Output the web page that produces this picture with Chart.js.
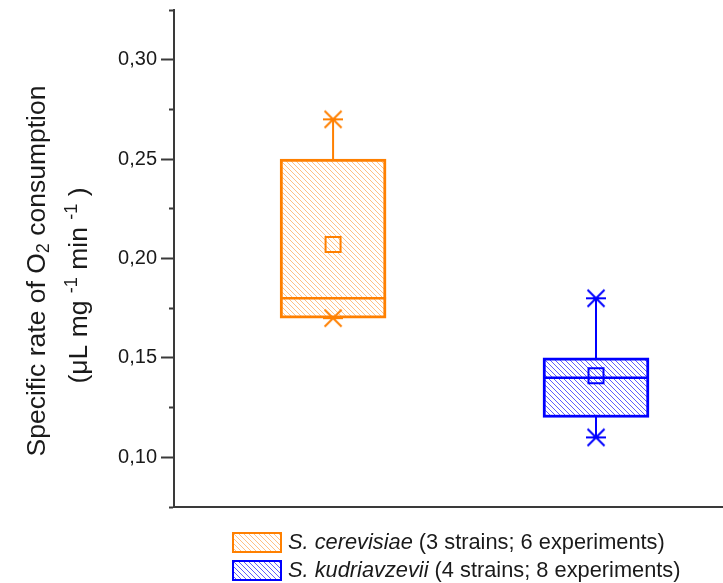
<!DOCTYPE html>
<html><head><meta charset="utf-8">
<script src="https://cdn.jsdelivr.net/npm/chart.js@4.4.1/dist/chart.umd.min.js"></script>
<style>
html,body{margin:0;padding:0;background:#fff;}
#wrap{position:relative;width:723px;height:583px;overflow:hidden;}
#c{position:absolute;left:0;top:0;}
#legend{position:absolute;left:232px;top:528px;font-family:"Liberation Sans",Arial,sans-serif;font-size:21.8px;color:#1a1a1a;line-height:22px;}
.item{display:flex;align-items:center;height:28px;white-space:nowrap;}
.item canvas{margin-right:6px;display:block;}
</style></head>
<body><div id="wrap"><canvas id="c" width="723" height="583"></canvas><div id="legend"></div></div>
<script>
// ---- data ----
const categories = ['S. cerevisiae', 'S. kudriavzevii'];
const legendDetails = ['(3 strains; 6 experiments)', '(4 strains; 8 experiments)'];
const positions = [1, 2];
const minValues = [0.17, 0.11];
const q1Values = [0.17, 0.12];
const medianValues = [0.18, 0.14];
const q3Values = [0.25, 0.15];
const maxValues = [0.27, 0.18];
const meanValues = [0.207, 0.141];
const yTickValues = [0.10, 0.15, 0.20, 0.25, 0.30];
const yTickLabels = ['0,10', '0,15', '0,20', '0,25', '0,30'];
// axis title, as text runs (s = script: 'sub' / 'sup')
const yTitleLine1 = [{t: 'Specific rate of O'}, {t: '2', s: 'sub'}, {t: ' consumption'}];
const yTitleLine2 = [{t: '(\u03bcL mg '}, {t: '-1', s: 'sup'}, {t: ' min '}, {t: '-1', s: 'sup'}, {t: ' )'}];

// ---- styles ----
const lineColors = ['#FF8000', '#0000FF'];
const hatchColors = ['rgba(255,140,30,0.55)', 'rgba(40,40,255,0.75)'];
const FONT = '"Liberation Sans", Arial, sans-serif';
const TITLE_SIZE = 26.5;

function hatchTile(color, period) {
  const c = document.createElement('canvas');
  c.width = c.height = period;
  const g = c.getContext('2d');
  g.fillStyle = '#fff'; g.fillRect(0, 0, period, period);
  g.strokeStyle = color; g.lineWidth = 1;
  g.beginPath();
  g.moveTo(-1, -1); g.lineTo(period + 1, period + 1);
  g.moveTo(-1, period - 1); g.lineTo(1, period + 1);
  g.moveTo(period - 1, -1); g.lineTo(period + 1, 1);
  g.stroke();
  return c;
}
function markerImg(color, size, lw) {
  const c = document.createElement('canvas');
  c.width = c.height = size;
  const g = c.getContext('2d');
  g.strokeStyle = color; g.lineWidth = lw;
  const m = 1.5;
  g.beginPath();
  g.moveTo(m, m); g.lineTo(size - m, size - m);
  g.moveTo(size - m, m); g.lineTo(m, size - m);
  g.moveTo(0, size / 2); g.lineTo(size, size / 2);
  g.stroke();
  return c;
}

const canvas = document.getElementById('c');
const ctx = canvas.getContext('2d');
const tiles = hatchColors.map(c => hatchTile(c, 5));
const patterns = tiles.map(t => ctx.createPattern(t, 'repeat'));
const markers = lineColors.map(c => markerImg(c, 20, 2));

// rich rotated y-axis title, placed relative to the y scale
const richTitle = {
  id: 'richTitle',
  afterDraw(chart) {
    const c = chart.ctx, ys = chart.scales.y, area = chart.chartArea;
    const mid = (area.top + area.bottom) / 2;
    const lines = [
      {runs: yTitleLine1, dx: 38, dy: 12.5},
      {runs: yTitleLine2, dx: 80, dy: 27}
    ];
    c.save();
    c.fillStyle = '#1a1a1a';
    c.textBaseline = 'middle';
    c.textAlign = 'left';
    lines.forEach(line => {
      const items = line.runs.map(r => {
        const size = r.s ? TITLE_SIZE * 0.68 : TITLE_SIZE;
        c.font = size + 'px ' + FONT;
        return {r, size, w: c.measureText(r.t).width};
      });
      const total = items.reduce((a, b) => a + b.w, 0);
      c.save();
      c.translate(ys.left + line.dx, mid + line.dy);
      c.rotate(-Math.PI / 2);
      let x = -total / 2;
      items.forEach(it => {
        c.font = it.size + 'px ' + FONT;
        const off = it.r.s === 'sup' ? -TITLE_SIZE * 0.3 : it.r.s === 'sub' ? TITLE_SIZE * 0.22 : 0;
        c.fillText(it.r.t, x, off);
        x += it.w;
      });
      c.restore();
    });
    c.restore();
  }
};

const whiskerSets = positions.map((p, i) => ({
  type: 'line',
  data: [{x: p, y: minValues[i]}, {x: p, y: maxValues[i]}],
  borderColor: lineColors[i], borderWidth: 2, pointRadius: 0, order: 10
}));

const boxSet = {
  type: 'bar',
  data: positions.map((p, i) => ({x: p, y: [q1Values[i], q3Values[i]]})),
  backgroundColor: patterns, borderColor: lineColors, borderWidth: 3,
  borderSkipped: false, barThickness: 106, grouped: false, order: 5
};
const medianSet = {
  type: 'scatter',
  data: positions.map((p, i) => ({x: p, y: medianValues[i]})),
  pointStyle: 'line', pointRadius: 53, borderColor: lineColors, borderWidth: 2.5, order: 3
};
const meanSet = {
  type: 'scatter',
  data: positions.map((p, i) => ({x: p, y: meanValues[i]})),
  pointStyle: 'rect', pointRadius: 10.6, borderColor: lineColors, backgroundColor: 'rgba(0,0,0,0)', borderWidth: 2, order: 2
};
const extremeSet = {
  type: 'scatter',
  data: positions.flatMap((p, i) => [{x: p, y: minValues[i]}, {x: p, y: maxValues[i]}]),
  pointStyle: positions.flatMap((p, i) => [markers[i], markers[i]]),
  pointRadius: 10, order: 1
};

function isMajor(v) { return yTickValues.some(t => Math.abs(t - v) < 1e-9); }

new Chart(ctx, {
  type: 'bar',
  data: { datasets: [...whiskerSets, boxSet, medianSet, meanSet, extremeSet] },
  plugins: [richTitle],
  options: {
    responsive: false, animation: false, events: [],
    layout: { autoPadding: false, padding: { left: 0, top: 10, right: 0, bottom: 0 } },
    plugins: { legend: { display: false }, tooltip: { enabled: false } },
    scales: {
      x: {
        type: 'linear', min: 0.395, max: 2.483, offset: false,
        grid: { display: false, drawTicks: false, offset: false },
        ticks: { display: false },
        border: { display: true, color: '#3a3a3a', width: 2 },
        afterFit: s => { s.height = 76; s.paddingLeft = 0; s.paddingRight = 0; }
      },
      y: {
        type: 'linear', min: 0.075, max: 0.325,
        ticks: {
          stepSize: 0.025, autoSkip: false, padding: 4,
          color: '#1a1a1a', font: { family: FONT, size: 20 },
          callback: v => { const i = yTickValues.findIndex(t => Math.abs(t - v) < 1e-9); return i >= 0 ? yTickLabels[i] : ''; }
        },
        grid: {
          drawOnChartArea: false, drawTicks: true, tickLength: 13, tickWidth: 2, tickColor: '#3a3a3a',
          tickBorderDash: c => (c.tick && isMajor(c.tick.value)) ? [] : [0, 8, 6, 100]
        },
        border: { display: true, color: '#3a3a3a', width: 2 },
        title: { display: false },
        afterFit: s => { s.width = 174; s.paddingTop = 0; s.paddingBottom = 0; }
      }
    }
  }
});

// ---- legend ----
const legend = document.getElementById('legend');
categories.forEach((name, i) => {
  const row = document.createElement('div'); row.className = 'item';
  const b = document.createElement('canvas'); b.width = 50; b.height = 21;
  const g = b.getContext('2d');
  g.fillStyle = g.createPattern(tiles[i], 'repeat'); g.fillRect(0, 0, 50, 21);
  g.strokeStyle = lineColors[i]; g.lineWidth = 2; g.strokeRect(1, 1, 48, 19);
  row.appendChild(b);
  const t = document.createElement('span');
  const it = document.createElement('i'); it.textContent = name;
  t.appendChild(it); t.appendChild(document.createTextNode(' ' + legendDetails[i]));
  row.appendChild(t);
  legend.appendChild(row);
});
</script>
</body></html>
